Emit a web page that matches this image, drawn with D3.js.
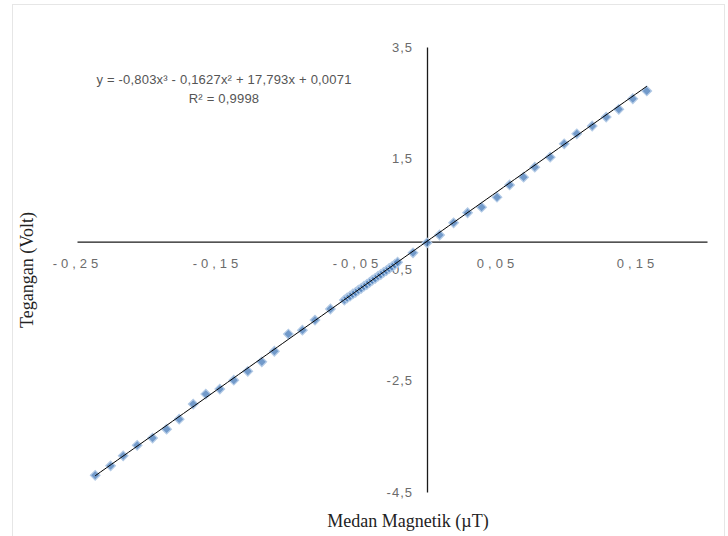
<!DOCTYPE html>
<html lang="id">
  <head>
    <meta charset="UTF-8">
    <title>Tegangan vs Medan Magnetik</title>
    <script src="https://d3js.org/d3.v7.min.js"></script>
    <style>
      body { margin: 0; background: #fff; }
      svg { display: block; }
    </style>
  </head>
  <body>

<script>
  // medan magnetik (uT) and tegangan (volt)
  const fieldX = [
    -0.237, -0.226, -0.217, -0.207, -0.196, -0.186, -0.177, -0.167, -0.158, -0.148,
    -0.138, -0.128, -0.118, -0.109, -0.099, -0.089, -0.080, -0.069,
    -0.059, -0.057, -0.055, -0.053, -0.051, -0.049, -0.047, -0.045, -0.043, -0.041,
    -0.039, -0.037, -0.035, -0.033, -0.031, -0.029, -0.027, -0.025, -0.023, -0.021,
    -0.010, 0.000,
    0.009, 0.019, 0.029, 0.039, 0.050, 0.059, 0.069, 0.077, 0.088, 0.098,
    0.107, 0.118, 0.128, 0.137, 0.147, 0.157
  ];
  const voltY = [
    -4.20, -4.03, -3.85, -3.66, -3.53, -3.37, -3.19, -2.92, -2.74, -2.65,
    -2.49, -2.33, -2.16, -1.97, -1.66, -1.59, -1.41, -1.21,
    -1.05, -1.01, -0.98, -0.94, -0.91, -0.87, -0.84, -0.80, -0.77, -0.73,
    -0.69, -0.66, -0.62, -0.59, -0.55, -0.52, -0.48, -0.45, -0.41, -0.37,
    -0.20, -0.02,
    0.12, 0.34, 0.52, 0.62, 0.80, 1.02, 1.16, 1.34, 1.52, 1.76,
    1.94, 2.08, 2.24, 2.38, 2.57, 2.71
  ];
  const xTicks = [-0.25, -0.15, -0.05, 0.05, 0.15];
  const yTicks = [3.5, 1.5, -0.5, -2.5, -4.5];
  // trendline coefficients (x^3, x^2, x, 1)
  const polyCoef = [-0.803, -0.1627, 17.793, 0.0071];
  const eqLabel = "y = -0,803x\u00B3 - 0,1627x\u00B2 + 17,793x + 0,0071";
  const r2Label = "R\u00B2 = 0,9998";

  const w = 728;
  const h = 536;

  const locale = d3.formatLocale({
    decimal: ",", thousands: ".", grouping: [3], currency: ["", ""], minus: "-"
  });

  const xScale = d3.scaleLinear().domain([-0.25, 0.2]).range([77, 707]);
  const yScale = d3.scaleLinear().domain([-4.5, 3.5]).range([492, 47]);

  const svg = d3.select("body")
                .append("svg")
                .attr("width", w)
                .attr("height", h);

  // faint chart frame
  svg.append("rect")
     .attr("x", 12.5).attr("y", 4.5)
     .attr("width", 712).attr("height", 540)
     .attr("fill", "none")
     .attr("stroke", "#e6e6e6");

  const xAxis = d3.axisBottom(xScale)
                  .tickValues(xTicks)
                  .tickSize(0)
                  .tickPadding(17)
                  .tickFormat(locale.format(".2f"));

  const gx = svg.append("g")
     .attr("transform", `translate(0, ${yScale(0)})`)
     .call(xAxis);

  gx.select(".domain").attr("stroke", "#1a1a1a").attr("stroke-width", 1.3);
  gx.selectAll("text")
    .attr("font-family", "Liberation Sans, Arial, sans-serif")
    .attr("font-size", 13)
    .attr("letter-spacing", "4px")
    .attr("fill", "#6b6b6b");

  const yAxis = d3.axisLeft(yScale)
                  .tickValues(yTicks)
                  .tickSize(0)
                  .tickPadding(14)
                  .tickFormat(locale.format(".1f"));

  const gy = svg.append("g")
     .attr("transform", `translate(${xScale(0)}, 0)`)
     .call(yAxis);

  gy.select(".domain").attr("stroke", "#1a1a1a").attr("stroke-width", 1.3);
  gy.selectAll("text")
    .attr("font-family", "Liberation Sans, Arial, sans-serif")
    .attr("font-size", 13)
    .attr("letter-spacing", "1px")
    .attr("fill", "#6b6b6b");

  // data points (square markers turned 45deg, like Excel's diamond)
  const pts = fieldX.map((x, i) => [x, voltY[i]]);

  svg.append("g")
     .selectAll("path")
     .data(pts)
     .enter()
     .append("path")
     .attr("transform", d => `translate(${xScale(d[0])}, ${yScale(d[1])}) rotate(45)`)
     .attr("d", d3.symbol(d3.symbolSquare, 46))
     .attr("fill", "#4f81bd")
     .attr("fill-opacity", 0.8)
     .attr("stroke", "#b4cbe6")
     .attr("stroke-width", 1.2);

  // polynomial trendline
  const poly = x => polyCoef[0] * x * x * x + polyCoef[1] * x * x + polyCoef[2] * x + polyCoef[3];
  const xs = d3.range(0, 101).map(k => d3.min(fieldX) + k * (d3.max(fieldX) - d3.min(fieldX)) / 100);

  svg.append("path")
     .datum(xs)
     .attr("fill", "none")
     .attr("stroke", "#000")
     .attr("stroke-width", 1)
     .attr("d", d3.line().x(d => xScale(d)).y(d => yScale(poly(d))));

  // equation label
  const eq = svg.append("text")
     .attr("text-anchor", "middle")
     .attr("font-family", "Liberation Sans, Arial, sans-serif")
     .attr("font-size", 13)
     .attr("letter-spacing", "0.2px")
     .attr("fill", "#555");
  eq.append("tspan").attr("x", 224).attr("y", 84).text(eqLabel);
  eq.append("tspan").attr("x", 224).attr("y", 103).text(r2Label);

  // axis titles
  svg.append("text")
     .attr("x", 408)
     .attr("y", 527)
     .attr("text-anchor", "middle")
     .attr("font-family", "Liberation Serif, Times New Roman, serif")
     .attr("font-size", 18)
     .attr("fill", "#222")
     .text("Medan Magnetik (\u00B5T)");

  svg.append("text")
     .attr("transform", "translate(33, 270) rotate(-90)")
     .attr("text-anchor", "middle")
     .attr("font-family", "Liberation Serif, Times New Roman, serif")
     .attr("font-size", 18)
     .attr("fill", "#222")
     .text("Tegangan (Volt)");
</script>

  </body>
</html>
